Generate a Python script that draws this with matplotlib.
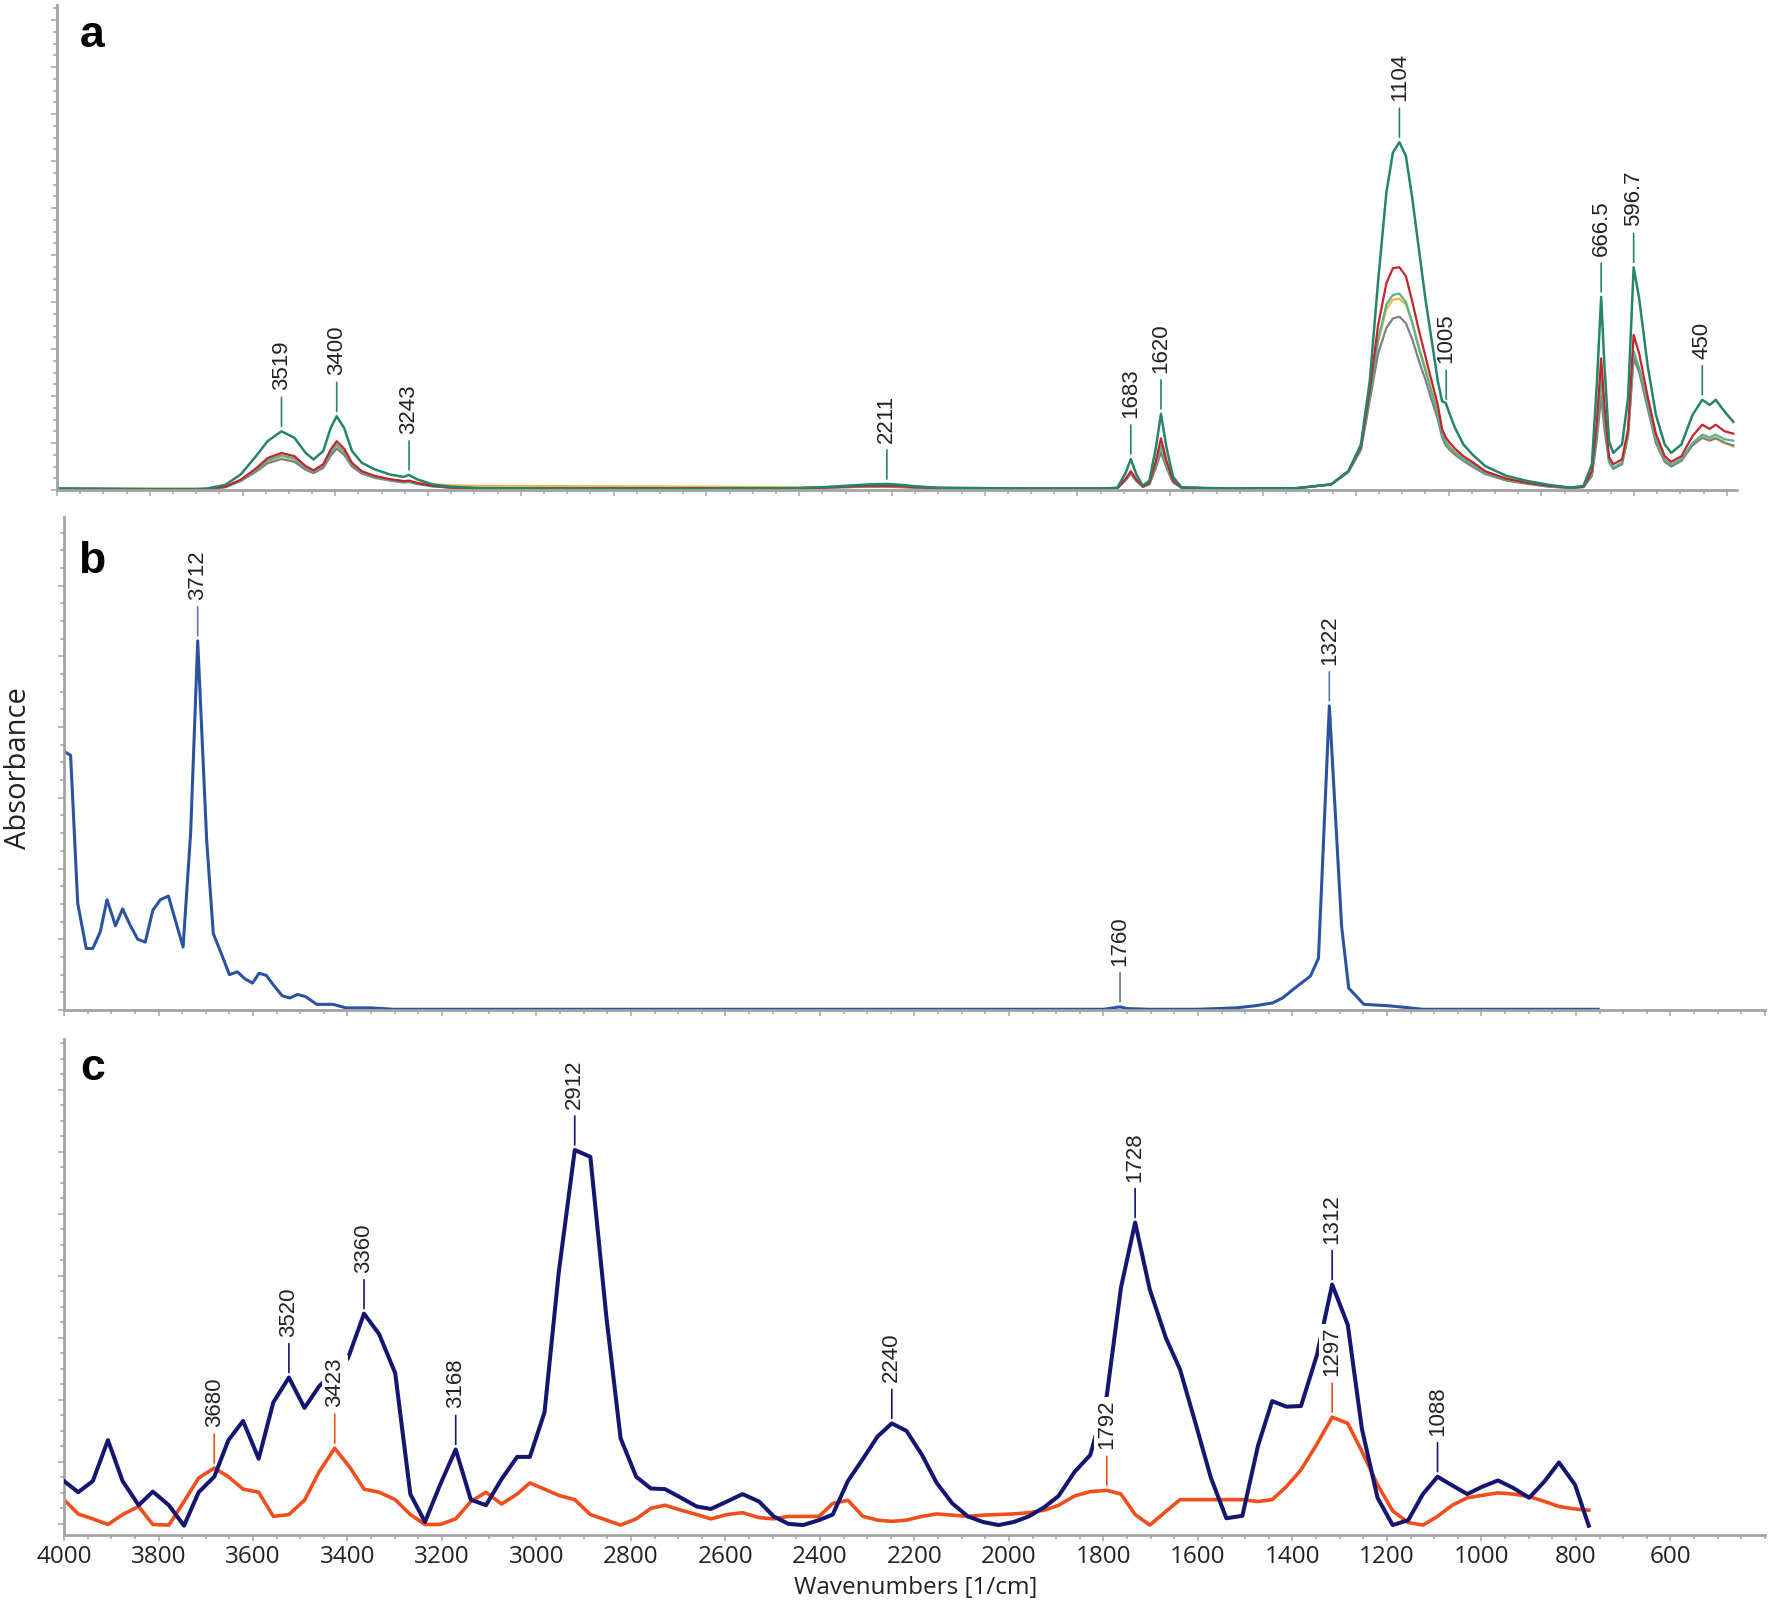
import numpy as np
import matplotlib
matplotlib.use("Agg")
import matplotlib.pyplot as plt
from matplotlib.ticker import MultipleLocator, NullFormatter

# ---------------- panel a : five overlaid spectra ----------------
a_wn = [4000, 3800, 3700, 3678, 3637, 3604, 3571, 3546, 3516, 3488, 3464, 3447, 3426, 3410,
        3397, 3381, 3364, 3343, 3315, 3282, 3253, 3241, 3224, 3191, 3150, 3092, 2836, 2600,
        2400, 2350, 2300, 2250, 2211, 2180, 2150, 2100, 2000, 1900, 1751, 1714, 1696, 1685,
        1673, 1659, 1645, 1631, 1620, 1608, 1594, 1576, 1475, 1327, 1253, 1216, 1189, 1170,
        1152, 1134, 1120, 1106, 1092, 1078, 1064, 1050, 1036, 1023, 1014, 1006, 997, 986,
        968, 949, 921, 875, 829, 783, 737, 709, 691, 680, 671, 664, 654, 645, 626, 613, 601,
        589, 571, 553, 534, 520, 498, 474, 453, 437, 424, 405, 386]

a_green = [0.03, 0.02, 0.02, 0.03, 0.11, 0.33, 0.72, 1.04, 1.25, 1.11, 0.79, 0.65, 0.83, 1.32,
           1.57, 1.32, 0.83, 0.58, 0.44, 0.33, 0.28, 0.32, 0.23, 0.12, 0.07, 0.04, 0.03, 0.03,
           0.04, 0.06, 0.09, 0.12, 0.13, 0.11, 0.08, 0.05, 0.04, 0.03, 0.03, 0.05, 0.37, 0.66,
           0.33, 0.09, 0.20, 0.90, 1.62, 0.90, 0.28, 0.06, 0.03, 0.04, 0.12, 0.40, 0.97, 2.31,
           4.43, 6.33, 7.18, 7.40, 7.11, 6.19, 5.13, 4.07, 3.16, 2.31, 1.89, 1.85, 1.60, 1.32,
           0.97, 0.76, 0.51, 0.30, 0.19, 0.11, 0.05, 0.09, 0.55, 2.31, 4.11, 2.66, 1.04, 0.79,
           0.97, 1.96, 4.74, 4.07, 2.66, 1.60, 0.97, 0.79, 0.97, 1.60, 1.92, 1.81, 1.92, 1.67, 1.45]

a_red = [0.03, 0.02, 0.02, 0.02, 0.07, 0.22, 0.46, 0.68, 0.79, 0.72, 0.51, 0.42, 0.55, 0.86,
         1.04, 0.88, 0.58, 0.40, 0.30, 0.23, 0.19, 0.20, 0.15, 0.09, 0.05, 0.04, 0.04, 0.04,
         0.04, 0.05, 0.07, 0.09, 0.09, 0.08, 0.06, 0.04, 0.03, 0.03, 0.03, 0.04, 0.24, 0.40,
         0.22, 0.07, 0.15, 0.62, 1.10, 0.62, 0.20, 0.05, 0.03, 0.04, 0.12, 0.40, 0.92, 2.10,
         3.50, 4.40, 4.72, 4.74, 4.55, 4.00, 3.40, 2.85, 2.30, 1.80, 1.30, 1.12, 1.00, 0.88,
         0.72, 0.60, 0.40, 0.24, 0.15, 0.09, 0.05, 0.07, 0.40, 1.50, 2.80, 1.80, 0.70, 0.55,
         0.65, 1.30, 3.30, 2.90, 2.00, 1.20, 0.72, 0.60, 0.72, 1.15, 1.39, 1.30, 1.39, 1.25, 1.20]

a_light = [0.03, 0.02, 0.02, 0.02, 0.07, 0.21, 0.43, 0.63, 0.74, 0.67, 0.48, 0.40, 0.52, 0.80,
           0.97, 0.82, 0.55, 0.38, 0.28, 0.21, 0.17, 0.18, 0.14, 0.08, 0.05, 0.04, 0.04, 0.04,
           0.04, 0.05, 0.06, 0.08, 0.08, 0.07, 0.05, 0.04, 0.03, 0.03, 0.03, 0.04, 0.23, 0.38,
           0.21, 0.07, 0.14, 0.55, 0.95, 0.55, 0.18, 0.05, 0.03, 0.04, 0.12, 0.40, 0.90, 2.00,
           3.20, 3.95, 4.15, 4.18, 4.00, 3.55, 3.00, 2.55, 2.05, 1.60, 1.20, 1.02, 0.90, 0.80,
           0.66, 0.55, 0.37, 0.22, 0.14, 0.08, 0.05, 0.07, 0.36, 1.30, 2.40, 1.55, 0.62, 0.48,
           0.58, 1.20, 2.95, 2.60, 1.85, 1.08, 0.65, 0.54, 0.66, 1.00, 1.18, 1.12, 1.18, 1.08, 1.05]

a_orange = [0.03, 0.03, 0.03, 0.03, 0.07, 0.20, 0.42, 0.61, 0.72, 0.65, 0.47, 0.39, 0.51, 0.78,
            0.94, 0.80, 0.54, 0.38, 0.29, 0.23, 0.19, 0.19, 0.16, 0.12, 0.10, 0.09, 0.08, 0.07,
            0.06, 0.06, 0.07, 0.08, 0.08, 0.07, 0.06, 0.05, 0.04, 0.03, 0.03, 0.04, 0.22, 0.37,
            0.20, 0.07, 0.13, 0.52, 0.90, 0.52, 0.17, 0.05, 0.03, 0.04, 0.12, 0.40, 0.90, 2.00,
            3.15, 3.85, 4.05, 4.07, 3.95, 3.55, 3.05, 2.60, 2.10, 1.65, 1.22, 1.04, 0.92, 0.82,
            0.68, 0.57, 0.39, 0.24, 0.15, 0.09, 0.05, 0.07, 0.34, 1.25, 2.30, 1.50, 0.60, 0.46,
            0.56, 1.16, 2.88, 2.55, 1.80, 1.05, 0.63, 0.52, 0.64, 0.98, 1.14, 1.08, 1.12, 1.02, 0.92]

a_gray = [0.02, 0.02, 0.02, 0.02, 0.06, 0.19, 0.39, 0.57, 0.66, 0.60, 0.43, 0.36, 0.47, 0.73,
          0.88, 0.75, 0.50, 0.35, 0.26, 0.20, 0.16, 0.17, 0.13, 0.08, 0.05, 0.04, 0.04, 0.04,
          0.04, 0.05, 0.06, 0.07, 0.07, 0.06, 0.05, 0.04, 0.03, 0.03, 0.03, 0.04, 0.21, 0.35,
          0.19, 0.07, 0.12, 0.47, 0.80, 0.47, 0.16, 0.05, 0.03, 0.04, 0.12, 0.38, 0.85, 1.90,
          2.90, 3.45, 3.65, 3.69, 3.55, 3.20, 2.75, 2.35, 1.90, 1.50, 1.12, 0.95, 0.85, 0.75,
          0.62, 0.50, 0.34, 0.20, 0.13, 0.07, 0.04, 0.06, 0.30, 1.10, 2.00, 1.30, 0.60, 0.45,
          0.55, 1.15, 2.80, 2.50, 1.75, 1.00, 0.60, 0.50, 0.62, 0.95, 1.11, 1.05, 1.10, 1.00, 0.95]

a_peaks = ["3519", "3400", "3243", "2211", "1683", "1620", "1104", "1005", "666.5", "596.7", "450"]

# ---------------- panel b : single spectrum ----------------
b_wn = [4003, 3986, 3971, 3953, 3939, 3923, 3909, 3891, 3876, 3860, 3844, 3828, 3812, 3796,
        3779, 3748, 3732, 3717, 3698, 3684, 3666, 3650, 3633, 3617, 3601, 3587, 3572, 3554,
        3538, 3522, 3506, 3489, 3465, 3431, 3403, 3350, 3301, 2400, 1800, 1780, 1765, 1750,
        1700, 1603, 1560, 1520, 1479, 1442, 1421, 1395, 1362, 1345, 1322, 1296, 1281, 1249,
        1197, 1166, 1124, 753]
b_abs = [3.67, 3.60, 1.51, 0.87, 0.87, 1.11, 1.56, 1.19, 1.43, 1.20, 1.00, 0.96, 1.41, 1.56,
         1.61, 0.89, 2.50, 5.22, 2.39, 1.08, 0.78, 0.50, 0.54, 0.44, 0.38, 0.52, 0.49, 0.33,
         0.20, 0.17, 0.22, 0.19, 0.08, 0.08, 0.03, 0.03, 0.01, 0.01, 0.01, 0.03, 0.045, 0.02,
         0.01, 0.01, 0.02, 0.03, 0.06, 0.10, 0.17, 0.31, 0.48, 0.73, 4.30, 1.18, 0.31, 0.08,
         0.06, 0.04, 0.01, 0.01]
b_peaks = ["3712", "1760", "1322"]

# ---------------- panel c : two spectra ----------------
c_navy_wn = [4000, 3970, 3939, 3907, 3876, 3842, 3812, 3778, 3746, 3715, 3682, 3652, 3621, 3588,
             3557, 3524, 3491, 3460, 3430, 3399, 3365, 3333, 3299, 3267, 3236, 3204, 3171, 3139,
             3107, 3074, 3041, 3014, 2983, 2953, 2919, 2886, 2852, 2822, 2789, 2758, 2728, 2694,
             2661, 2631, 2597, 2564, 2529, 2498, 2467, 2436, 2402, 2373, 2341, 2309, 2278, 2248,
             2217, 2184, 2153, 2120, 2087, 2055, 2022, 1990, 1958, 1925, 1895, 1861, 1828, 1793,
             1763, 1733, 1702, 1668, 1638, 1604, 1573, 1540, 1506, 1473, 1443, 1413, 1382, 1348,
             1316, 1283, 1253, 1220, 1188, 1155, 1124, 1093, 1062, 1030, 998, 965, 933, 899, 866,
             836, 802, 773]
c_navy = [0.87, 0.69, 0.87, 1.53, 0.87, 0.48, 0.70, 0.48, 0.15, 0.69, 0.94, 1.53, 1.84, 1.23,
          2.14, 2.54, 2.05, 2.40, 2.62, 2.85, 3.57, 3.24, 2.61, 0.66, 0.21, 0.81, 1.38, 0.57,
          0.48, 0.90, 1.26, 1.26, 1.98, 4.23, 6.21, 6.10, 3.51, 1.56, 0.94, 0.75, 0.74, 0.60,
          0.46, 0.42, 0.54, 0.66, 0.54, 0.30, 0.18, 0.16, 0.24, 0.33, 0.87, 1.23, 1.59, 1.80,
          1.68, 1.29, 0.84, 0.51, 0.30, 0.21, 0.16, 0.21, 0.30, 0.45, 0.63, 1.02, 1.29, 2.25,
          3.99, 5.04, 3.96, 3.18, 2.67, 1.77, 0.93, 0.27, 0.31, 1.44, 2.16, 2.07, 2.08, 2.91,
          4.04, 3.39, 1.71, 0.60, 0.16, 0.24, 0.66, 0.94, 0.80, 0.66, 0.78, 0.88, 0.76, 0.60,
          0.87, 1.17, 0.81, 0.15]
c_navy_peaks = ["3520", "3360", "3168", "2912", "2240", "1728", "1312", "1088"]

c_red_wn = [4000, 3970, 3939, 3907, 3876, 3842, 3812, 3778, 3746, 3715, 3682, 3652, 3621, 3588,
            3557, 3524, 3491, 3460, 3427, 3394, 3365, 3333, 3299, 3267, 3236, 3204, 3171, 3139,
            3107, 3074, 3041, 3014, 2983, 2953, 2919, 2886, 2852, 2822, 2789, 2758, 2728, 2694,
            2661, 2631, 2597, 2564, 2529, 2498, 2467, 2436, 2402, 2373, 2341, 2309, 2278, 2248,
            2217, 2184, 2153, 2120, 2087, 2055, 2022, 1990, 1958, 1925, 1895, 1861, 1828, 1793,
            1763, 1733, 1702, 1668, 1638, 1604, 1573, 1540, 1506, 1473, 1443, 1413, 1382, 1348,
            1316, 1283, 1253, 1220, 1188, 1155, 1124, 1093, 1062, 1030, 998, 965, 933, 899, 866,
            836, 802, 773]
c_red = [0.57, 0.34, 0.26, 0.17, 0.33, 0.46, 0.17, 0.16, 0.54, 0.92, 1.08, 0.94, 0.74, 0.69,
         0.30, 0.33, 0.56, 1.02, 1.40, 1.08, 0.74, 0.69, 0.57, 0.33, 0.17, 0.17, 0.26, 0.54,
         0.69, 0.50, 0.66, 0.84, 0.74, 0.64, 0.57, 0.33, 0.24, 0.16, 0.26, 0.43, 0.48, 0.40,
         0.33, 0.26, 0.33, 0.36, 0.28, 0.26, 0.30, 0.30, 0.30, 0.51, 0.56, 0.30, 0.24, 0.22,
         0.24, 0.30, 0.34, 0.32, 0.30, 0.32, 0.33, 0.34, 0.36, 0.40, 0.48, 0.63, 0.70, 0.72,
         0.66, 0.33, 0.16, 0.38, 0.57, 0.57, 0.57, 0.57, 0.57, 0.54, 0.57, 0.78, 1.05, 1.47,
         1.90, 1.80, 1.35, 0.81, 0.39, 0.20, 0.16, 0.30, 0.48, 0.60, 0.64, 0.68, 0.66, 0.62,
         0.54, 0.46, 0.42, 0.40]
c_red_peaks = ["3680", "3423", "1792", "1297"]

c_ticks = [4000, 3800, 3600, 3400, 3200, 3000, 2800, 2600, 2400, 2200, 2000, 1800, 1600, 1400,
           1200, 1000, 800, 600]

AXIS_GRAY = "#a3a3a3"
TEXT_COL = "#222222"
PX = 0.72  # points per pixel at dpi 100


def style_axes(ax, xlim, ylim, ymajor, yoffset=0.0):
    '''
    ------------------------
    Input: axes and limits
    Output: spectrum-style frame (left and bottom only)
    ------------------------
    '''
    for side in ["top", "right"]:
        ax.spines[side].set_visible(False)
    for side in ["left", "bottom"]:
        ax.spines[side].set_color(AXIS_GRAY)
        ax.spines[side].set_linewidth(2.0)
    ax.set_xlim(xlim)
    ax.set_ylim(ylim)
    ax.xaxis.set_major_locator(MultipleLocator(200))
    ax.xaxis.set_minor_locator(MultipleLocator(50))
    ax.yaxis.set_major_locator(MultipleLocator(ymajor, offset=yoffset))
    ax.yaxis.set_minor_locator(MultipleLocator(ymajor / 4, offset=yoffset))
    ax.tick_params(which="major", direction="out", length=4.5, width=1.1, color=AXIS_GRAY)
    ax.tick_params(which="minor", direction="out", length=2.6, width=1.1, color=AXIS_GRAY)
    ax.xaxis.set_major_formatter(NullFormatter())
    ax.yaxis.set_major_formatter(NullFormatter())
    ax.patch.set_alpha(0)


def find_peak(wn, ys, x, window=20):
    '''
    ------------------------
    Input: curve and a labelled wavenumber
    Output: nearest local maximum of the curve (or the curve value at x)
    ------------------------
    '''
    best = None
    for i in range(1, len(wn) - 1):
        if abs(wn[i] - x) <= window and ys[i] >= ys[i - 1] and ys[i] >= ys[i + 1]:
            if best is None or abs(wn[i] - x) < abs(wn[best] - x):
                best = i
    if best is not None:
        return wn[best], ys[best]
    order = np.argsort(wn)
    return x, np.interp(x, wn[order], ys[order])


def label_peaks(ax, wn, ys, peaks, line_color, boxed=False):
    '''
    ------------------------
    Input: curve and list of peak labels
    Output: short marker line plus rotated wavenumber text
    ------------------------
    '''
    wn = np.asarray(wn, dtype=float)
    ys = np.asarray(ys, dtype=float)
    for text in peaks:
        x, y = find_peak(wn, ys, float(text))

        # marker line from just above the peak
        ax.annotate("", xy=(x, y), xytext=(0, 34 * PX), textcoords="offset points",
                    arrowprops=dict(arrowstyle="-", color=line_color, lw=1.2,
                                    shrinkA=0, shrinkB=5 * PX), zorder=4)

        bbox = dict(boxstyle="square,pad=0.12", fc="white", ec="none") if boxed else None
        ax.annotate(text, xy=(x, y), xytext=(0, 41 * PX), textcoords="offset points",
                    rotation=90, ha="center", va="bottom", fontsize=16,
                    family="Liberation Sans", color=TEXT_COL, bbox=bbox, zorder=6)


fig = plt.figure(figsize=(17.70, 16.03), dpi=100)
fig.patch.set_facecolor("white")

# Panel a
ax_a = fig.add_axes([0.0322, 0.6943, 0.9492, 0.3026])
style_axes(ax_a, (4000, 378), (0, 10.32), 1.0)
ax_a.plot(a_wn, a_orange, color="#f0b445", lw=1.6)
ax_a.plot(a_wn, a_gray, color="#808080", lw=1.6)
ax_a.plot(a_wn, a_light, color="#55b38e", lw=1.6)
ax_a.plot(a_wn, a_red, color="#c4242c", lw=1.6)
ax_a.plot(a_wn, a_green, color="#25846a", lw=1.8)
label_peaks(ax_a, a_wn, a_green, a_peaks, "#25846a")

# Panel b
ax_b = fig.add_axes([0.03616, 0.36993, 0.9610, 0.30755])
style_axes(ax_b, (4000, 400), (0, 6.97), 1.0)
ax_b.plot(b_wn, b_abs, color="#2b54a0", lw=2.2)
label_peaks(ax_b, b_wn, b_abs, b_peaks, "#5a78b0")

# Panel c
ax_c = fig.add_axes([0.03616, 0.04242, 0.9610, 0.30942])
style_axes(ax_c, (4000, 400), (0, 8.0), 1.0, yoffset=0.18)
ax_c.plot(c_red_wn, c_red, color="#f04e1c", lw=2.6, zorder=2)
ax_c.plot(c_navy_wn, c_navy, color="#141670", lw=2.9, zorder=3)
label_peaks(ax_c, c_navy_wn, c_navy, c_navy_peaks, "#141670", boxed=True)
label_peaks(ax_c, c_red_wn, c_red, c_red_peaks, "#f04e1c", boxed=True)

ax_c.set_xticks(c_ticks)
ax_c.set_xticklabels([str(t) for t in c_ticks], fontsize=17.5, family="Open Sans",
                     color=TEXT_COL)
ax_c.tick_params(axis="x", which="major", pad=3)

# Axis titles
fig.text(916 / 1770, 1 - 1588 / 1603, "Wavenumbers [1/cm]", ha="center", va="center",
         fontsize=17.5, family="Open Sans", color=TEXT_COL)
fig.text(18.8 / 1770, 1 - 768 / 1603, "Absorbance", rotation=90, ha="center", va="center",
         fontsize=21, family="Open Sans", color=TEXT_COL)

# Panel letters
for letter, x_px, base_px in [("a", 92.5, 46.7), ("b", 92, 573), ("c", 92.7, 1080)]:
    fig.text(x_px / 1770, 1 - base_px / 1603, letter, ha="center", va="baseline",
             fontsize=32, fontweight="bold", family="Liberation Sans", color="black")

fig.savefig("out.png", dpi=100, facecolor="white")
